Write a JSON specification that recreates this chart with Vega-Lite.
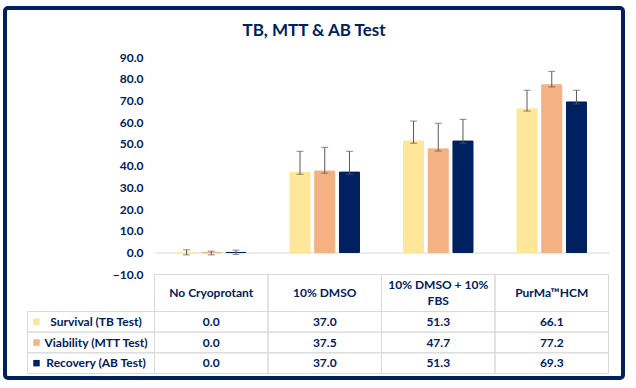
{
  "$schema": "https://vega.github.io/schema/vega-lite/v6.json",
  "width": 618,
  "height": 370,
  "autosize": {"type": "none"},
  "padding": {"left": 5, "top": 8, "right": 13, "bottom": 10},
  "background": "white",
  "config": {
    "view": {"stroke": "#002060", "strokeWidth": 4, "cornerRadius": 3, "fill": "white"},
    "font": "Lato"
  },
  "title": {
    "text": "TB, MTT & AB Test",
    "font": "Lato",
    "fontSize": 17,
    "fontWeight": "bold",
    "color": "#002060",
    "anchor": "middle",
    "offset": -32
  },
  "datasets": {
    "bars": [
      {"cat": "No Cryoprotant", "series": "Survival (TB Test)", "value": 0.0, "lo": -1.1, "hi": 1.2},
      {"cat": "No Cryoprotant", "series": "Viability (MTT Test)", "value": 0.0, "lo": -1.1, "hi": 0.6},
      {"cat": "No Cryoprotant", "series": "Recovery (AB Test)", "value": 0.0, "lo": -0.9, "hi": 1.1},
      {"cat": "10% DMSO", "series": "Survival (TB Test)", "value": 37.0, "lo": 36.0, "hi": 46.6},
      {"cat": "10% DMSO", "series": "Viability (MTT Test)", "value": 37.5, "lo": 36.5, "hi": 48.4},
      {"cat": "10% DMSO", "series": "Recovery (AB Test)", "value": 37.0, "lo": 36.0, "hi": 46.6},
      {"cat": "10% DMSO + 10% FBS", "series": "Survival (TB Test)", "value": 51.3, "lo": 50.3, "hi": 60.5},
      {"cat": "10% DMSO + 10% FBS", "series": "Viability (MTT Test)", "value": 47.7, "lo": 46.7, "hi": 59.5},
      {"cat": "10% DMSO + 10% FBS", "series": "Recovery (AB Test)", "value": 51.3, "lo": 50.3, "hi": 61.3},
      {"cat": "PurMa™HCM", "series": "Survival (TB Test)", "value": 66.1, "lo": 65.1, "hi": 74.7},
      {"cat": "PurMa™HCM", "series": "Viability (MTT Test)", "value": 77.2, "lo": 76.2, "hi": 83.4},
      {"cat": "PurMa™HCM", "series": "Recovery (AB Test)", "value": 69.3, "lo": 68.4, "hi": 74.7}
    ],
    "cats": [
      {"cat": "No Cryoprotant", "label": "No Cryoprotant"},
      {"cat": "10% DMSO", "label": "10% DMSO"},
      {"cat": "10% DMSO + 10% FBS", "label": "10% DMSO + 10%\nFBS"},
      {"cat": "PurMa™HCM", "label": "PurMa™HCM"}
    ],
    "series": [
      {"series": "Survival (TB Test)"},
      {"series": "Viability (MTT Test)"},
      {"series": "Recovery (AB Test)"}
    ]
  },
  "resolve": {"scale": {"x": "independent", "y": "independent"}},
  "layer": [
    {
      "data": {"name": "bars"},
      "mark": {"type": "bar", "strokeWidth": 1},
      "encoding": {
        "x": {
          "field": "cat", "type": "nominal",
          "scale": {"domain": ["No Cryoprotant", "10% DMSO", "10% DMSO + 10% FBS", "PurMa™HCM"], "range": [149.5, 603.5], "paddingInner": 0, "paddingOuter": 0},
          "axis": {"orient": "bottom", "offset": -125.5, "labels": false, "ticks": false, "grid": false, "title": null, "domainColor": "#d9d9d9", "domainWidth": 1}
        },
        "xOffset": {"field": "series", "type": "nominal", "scale": {"domain": ["Survival (TB Test)", "Viability (MTT Test)", "Recovery (AB Test)"], "paddingInner": 0.19, "paddingOuter": 0.89}},
        "y": {
          "field": "value", "type": "quantitative",
          "scale": {"domain": [-10, 90], "range": [266.2, 49], "nice": false, "zero": false},
          "axis": {"orient": "left", "offset": -138, "values": [-10, 0, 10, 20, 30, 40, 50, 60, 70, 80, 90], "format": ".1f", "domain": false, "ticks": false, "grid": false, "labelPadding": 0, "labelFont": "Lato", "labelFontWeight": "bold", "labelFontSize": 12, "labelColor": "#002060", "title": null}
        },
        "y2": {"datum": 0},
        "color": {"field": "series", "type": "nominal", "scale": {"domain": ["Survival (TB Test)", "Viability (MTT Test)", "Recovery (AB Test)"], "range": ["#FFE699", "#F4B183", "#002060"]}, "legend": null},
        "stroke": {"field": "series", "type": "nominal", "scale": {"domain": ["Survival (TB Test)", "Viability (MTT Test)", "Recovery (AB Test)"], "range": ["#FFE699", "#F4B183", "#002060"]}, "legend": null}
      }
    },
    {
      "data": {"name": "bars"},
      "mark": {"type": "rule", "color": "#595959", "strokeWidth": 1},
      "encoding": {
        "x": {"field": "cat", "type": "nominal", "scale": {"domain": ["No Cryoprotant", "10% DMSO", "10% DMSO + 10% FBS", "PurMa™HCM"], "range": [149.5, 603.5], "paddingInner": 0, "paddingOuter": 0}, "axis": null},
        "xOffset": {"field": "series", "type": "nominal", "scale": {"domain": ["Survival (TB Test)", "Viability (MTT Test)", "Recovery (AB Test)"], "paddingInner": 0.19, "paddingOuter": 0.89}},
        "y": {"field": "lo", "type": "quantitative", "scale": {"domain": [-10, 90], "range": [266.2, 49], "nice": false, "zero": false}, "axis": null},
        "y2": {"field": "hi"}
      }
    },
    {
      "data": {"name": "bars"},
      "mark": {"type": "tick", "color": "#595959", "size": 7, "thickness": 1, "orient": "horizontal"},
      "encoding": {
        "x": {"field": "cat", "type": "nominal", "scale": {"domain": ["No Cryoprotant", "10% DMSO", "10% DMSO + 10% FBS", "PurMa™HCM"], "range": [149.5, 603.5], "paddingInner": 0, "paddingOuter": 0}, "axis": null},
        "xOffset": {"field": "series", "type": "nominal", "scale": {"domain": ["Survival (TB Test)", "Viability (MTT Test)", "Recovery (AB Test)"], "paddingInner": 0.19, "paddingOuter": 0.89}},
        "y": {"field": "hi", "type": "quantitative", "scale": {"domain": [-10, 90], "range": [266.2, 49], "nice": false, "zero": false}, "axis": null}
      }
    },
    {
      "data": {"name": "bars"},
      "mark": {"type": "tick", "color": "#595959", "size": 7, "thickness": 1, "orient": "horizontal"},
      "encoding": {
        "x": {"field": "cat", "type": "nominal", "scale": {"domain": ["No Cryoprotant", "10% DMSO", "10% DMSO + 10% FBS", "PurMa™HCM"], "range": [149.5, 603.5], "paddingInner": 0, "paddingOuter": 0}, "axis": null},
        "xOffset": {"field": "series", "type": "nominal", "scale": {"domain": ["Survival (TB Test)", "Viability (MTT Test)", "Recovery (AB Test)"], "paddingInner": 0.19, "paddingOuter": 0.89}},
        "y": {"field": "lo", "type": "quantitative", "scale": {"domain": [-10, 90], "range": [266.2, 49], "nice": false, "zero": false}, "axis": null}
      }
    },
    {
      "data": {"name": "cats"},
      "mark": {"type": "rect", "fill": "transparent", "stroke": "#d9d9d9", "strokeWidth": 1},
      "encoding": {
        "x": {"field": "cat", "type": "nominal", "scale": {"domain": ["No Cryoprotant", "10% DMSO", "10% DMSO + 10% FBS", "PurMa™HCM"], "range": [149.5, 603.5], "paddingInner": 0, "paddingOuter": 0}, "axis": null},
        "y": {"datum": "header", "type": "nominal", "scale": {"domain": ["header"], "range": [266.5, 303.5], "paddingInner": 0, "paddingOuter": 0}, "axis": null}
      }
    },
    {
      "data": {"name": "cats"},
      "transform": [{"filter": "indexof(datum.label, '\\n') < 0"}],
      "mark": {"type": "text", "font": "Lato", "fontSize": 12, "fontWeight": "bold", "color": "#002060", "baseline": "middle", "align": "center"},
      "encoding": {
        "x": {"field": "cat", "type": "nominal", "scale": {"domain": ["No Cryoprotant", "10% DMSO", "10% DMSO + 10% FBS", "PurMa™HCM"], "range": [149.5, 603.5], "paddingInner": 0, "paddingOuter": 0}, "axis": null},
        "y": {"datum": "header", "type": "nominal", "scale": {"domain": ["header"], "range": [266.5, 303.5], "paddingInner": 0, "paddingOuter": 0}, "axis": null},
        "text": {"field": "label"}
      }
    },
    {
      "data": {"name": "cats"},
      "transform": [{"filter": "indexof(datum.label, '\\n') >= 0"}],
      "mark": {"type": "text", "font": "Lato", "fontSize": 12, "fontWeight": "bold", "color": "#002060", "lineBreak": "\n", "lineHeight": 16, "baseline": "middle", "align": "center", "dy": -8},
      "encoding": {
        "x": {"field": "cat", "type": "nominal", "scale": {"domain": ["No Cryoprotant", "10% DMSO", "10% DMSO + 10% FBS", "PurMa™HCM"], "range": [149.5, 603.5], "paddingInner": 0, "paddingOuter": 0}, "axis": null},
        "y": {"datum": "header", "type": "nominal", "scale": {"domain": ["header"], "range": [266.5, 303.5], "paddingInner": 0, "paddingOuter": 0}, "axis": null},
        "text": {"field": "label"}
      }
    },
    {
      "data": {"name": "bars"},
      "mark": {"type": "rect", "fill": "transparent", "stroke": "#d9d9d9", "strokeWidth": 1},
      "encoding": {
        "x": {"field": "cat", "type": "nominal", "scale": {"domain": ["No Cryoprotant", "10% DMSO", "10% DMSO + 10% FBS", "PurMa™HCM"], "range": [149.5, 603.5], "paddingInner": 0, "paddingOuter": 0}, "axis": null},
        "y": {"field": "series", "type": "nominal", "scale": {"domain": ["Survival (TB Test)", "Viability (MTT Test)", "Recovery (AB Test)"], "range": [303.5, 365.5], "paddingInner": 0, "paddingOuter": 0}, "axis": null}
      }
    },
    {
      "data": {"name": "bars"},
      "mark": {"type": "text", "font": "Lato", "fontSize": 12, "fontWeight": "bold", "color": "#002060", "baseline": "middle", "align": "center"},
      "encoding": {
        "x": {"field": "cat", "type": "nominal", "scale": {"domain": ["No Cryoprotant", "10% DMSO", "10% DMSO + 10% FBS", "PurMa™HCM"], "range": [149.5, 603.5], "paddingInner": 0, "paddingOuter": 0}, "axis": null},
        "y": {"field": "series", "type": "nominal", "scale": {"domain": ["Survival (TB Test)", "Viability (MTT Test)", "Recovery (AB Test)"], "range": [303.5, 365.5], "paddingInner": 0, "paddingOuter": 0}, "axis": null},
        "text": {"field": "value", "type": "quantitative", "format": ".1f"}
      }
    },
    {
      "data": {"name": "series"},
      "mark": {"type": "rect", "fill": "transparent", "stroke": "#d9d9d9", "strokeWidth": 1},
      "encoding": {
        "x": {"datum": "label", "type": "nominal", "scale": {"domain": ["label"], "range": [22.5, 149.5], "paddingInner": 0, "paddingOuter": 0}, "axis": null},
        "y": {"field": "series", "type": "nominal", "scale": {"domain": ["Survival (TB Test)", "Viability (MTT Test)", "Recovery (AB Test)"], "range": [303.5, 365.5], "paddingInner": 0, "paddingOuter": 0}, "axis": null}
      }
    },
    {
      "data": {"name": "series"},
      "mark": {"type": "text", "font": "Lato", "fontSize": 12, "fontWeight": "bold", "color": "#002060", "baseline": "middle", "align": "center", "dx": 5},
      "encoding": {
        "x": {"datum": "label", "type": "nominal", "scale": {"domain": ["label"], "range": [22.5, 149.5], "paddingInner": 0, "paddingOuter": 0}, "axis": null},
        "y": {"field": "series", "type": "nominal", "scale": {"domain": ["Survival (TB Test)", "Viability (MTT Test)", "Recovery (AB Test)"], "range": [303.5, 365.5], "paddingInner": 0, "paddingOuter": 0}, "axis": null},
        "text": {"field": "series"}
      }
    },
    {
      "data": {"name": "series"},
      "mark": {"type": "square", "size": 42, "opacity": 1, "filled": true},
      "encoding": {
        "x": {"datum": "swatch", "type": "nominal", "scale": {"domain": ["swatch"], "range": [28, 35], "paddingInner": 0, "paddingOuter": 0}, "axis": null},
        "y": {"field": "series", "type": "nominal", "scale": {"domain": ["Survival (TB Test)", "Viability (MTT Test)", "Recovery (AB Test)"], "range": [303.5, 365.5], "paddingInner": 0, "paddingOuter": 0}, "axis": null},
        "color": {"field": "series", "type": "nominal", "scale": {"domain": ["Survival (TB Test)", "Viability (MTT Test)", "Recovery (AB Test)"], "range": ["#FFE699", "#F4B183", "#002060"]}, "legend": null}
      }
    }
  ]
}
